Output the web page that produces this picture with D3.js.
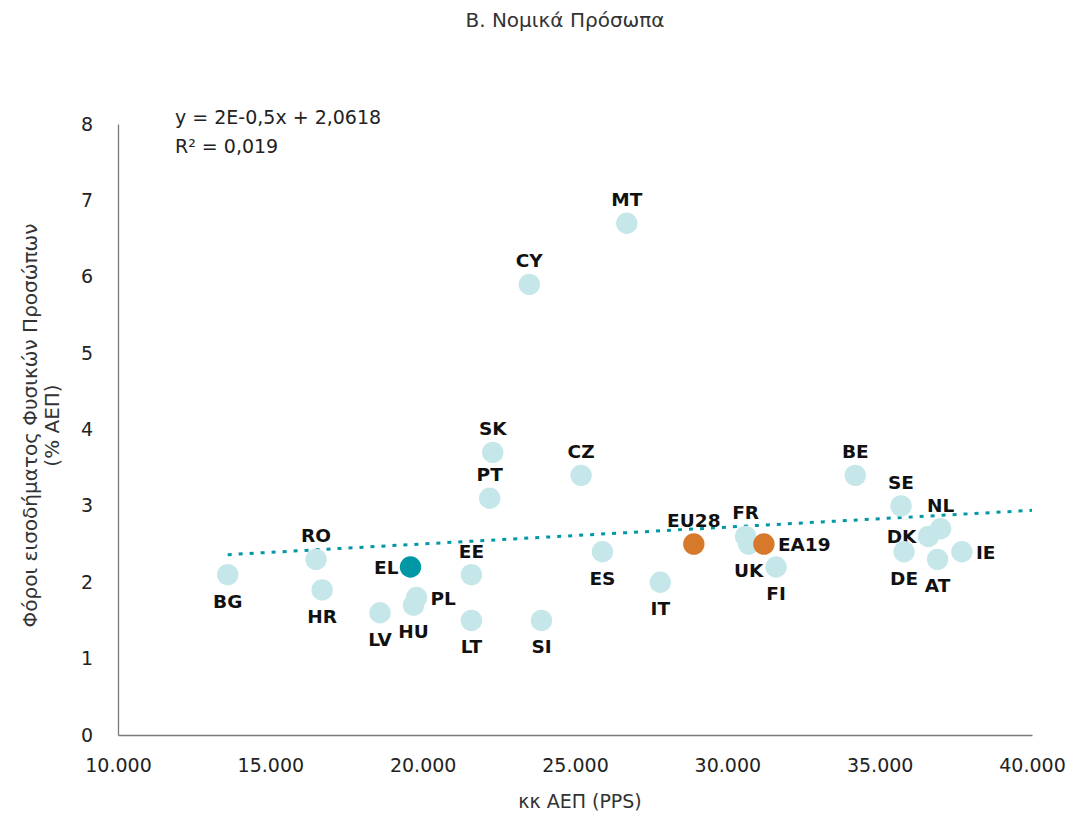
<!DOCTYPE html>
<html>
<head>
<meta charset="utf-8">
<script src="https://cdn.jsdelivr.net/npm/d3@7"></script>
<style>
  body { margin: 0; background: white; }
  text { font-family: "DejaVu Sans", sans-serif; }
</style>
</head>
<body>
<div id="container"></div>
<script>

// countries, x = GDP per capita (PPS), y = tax % GDP
let countries = ["BG","RO","HR","LV","HU","PL","EL","EE","LT","SK","PT","CY","SI","CZ","MT","ES","IT","EU28","FR","UK","EA19","FI","BE","SE","DK","NL","DE","AT","IE"]
let gdpValues = [13600,16500,16700,18600,19700,19800,19600,21600,21600,22300,22200,23500,23900,25200,26700,25900,27800,28900,30600,30700,31200,31600,34200,35700,36600,37000,35800,36900,37700]
let taxValues = [2.1,2.3,1.9,1.6,1.7,1.8,2.2,2.1,1.5,3.7,3.1,5.9,1.5,3.4,6.7,2.4,2.0,2.5,2.6,2.5,2.5,2.2,3.4,3.0,2.6,2.7,2.4,2.3,2.4]
// where the label sits relative to the dot
let labelSide = ["b","t","b","b","b","r","l","t","b","t","t","t","b","t","t","b","b","t","t","b","r","b","t","t","l","t","b","b","r"]
// greece highlighted, aggregates in orange
let kind = ["c","c","c","c","c","c","el","c","c","c","c","c","c","c","c","c","c","agg","c","c","agg","c","c","c","c","c","c","c","c"]

let xTicks = [10000,15000,20000,25000,30000,35000,40000]
let yTicks = [0,1,2,3,4,5,6,7,8]
let trendSlope = 0.000022
let trendIntercept = 2.0618

let W = 1068, H = 816
let margin = {left:118, top:124, right:36, bottom:81}

let viz = d3.select("#container").append("svg")
    .attr("width", W)
    .attr("height", H)

let x = d3.scaleLinear().domain([10000,40000]).range([margin.left, W - margin.right])
let y = d3.scaleLinear().domain([0,8]).range([H - margin.bottom, margin.top])

let locale = d3.formatLocale({decimal:",", thousands:".", grouping:[3], currency:["","€"]})
let fmt = locale.format(",")

let colors = {c:"#c6e7e9", el:"#0198a5", agg:"#d6792b"}

// title
viz.append("text")
    .attr("x", 565)
    .attr("y", 27)
    .attr("text-anchor","middle")
    .attr("font-size", 20)
    .attr("fill", "#333")
    .text("Β. Νομικά Πρόσωπα")

// axes
let xAxis = viz.append("g")
    .attr("transform", "translate(0," + y(0) + ")")
    .call(d3.axisBottom(x).tickValues(xTicks).tickFormat(fmt).tickSize(0).tickPadding(24))
let yAxis = viz.append("g")
    .attr("transform", "translate(" + x(10000) + ",0)")
    .call(d3.axisLeft(y).tickValues(yTicks).tickSize(0).tickPadding(27))

viz.selectAll(".domain").attr("stroke","#7a7a7a").attr("stroke-width",1.3)
viz.selectAll(".tick text")
    .attr("font-size", 19)
    .attr("fill", "#222")
    .attr("font-family", "\"DejaVu Sans\", sans-serif")
yAxis.selectAll(".tick text").attr("text-anchor","middle").attr("dx", -4)

viz.append("text")
    .attr("x", 580)
    .attr("y", 808)
    .attr("text-anchor","middle")
    .attr("font-size", 19)
    .attr("fill", "#333")
    .text("κκ ΑΕΠ (PPS)")

let yTitle = viz.append("text")
    .attr("transform", "translate(37," + (y(4) - 4) + ") rotate(-90)")
    .attr("text-anchor","middle")
    .attr("font-size", 20)
    .attr("fill", "#333")
yTitle.append("tspan").attr("x",0).attr("dy",0).text("Φόροι εισοδήματος Φυσικών Προσώπων")
yTitle.append("tspan").attr("x",0).attr("dy",22).text("(% ΑΕΠ)")

// trendline
let xMin = d3.min(gdpValues)
viz.append("line")
    .attr("x1", x(xMin))
    .attr("y1", y(trendSlope*xMin + trendIntercept))
    .attr("x2", x(40000))
    .attr("y2", y(trendSlope*40000 + trendIntercept))
    .attr("stroke", "#0198a5")
    .attr("stroke-width", 3)
    .attr("stroke-dasharray", "4,7")

viz.append("text")
    .attr("x", 175)
    .attr("y", 124)
    .attr("font-size", 19)
    .attr("fill", "#222")
    .text("y = 2E-0,5x + 2,0618")
viz.append("text")
    .attr("x", 175)
    .attr("y", 153)
    .attr("font-size", 19)
    .attr("fill", "#222")
    .text("R² = 0,019")

// points
let data = countries.map(function(c,i){
    return {name:c, gdp:gdpValues[i], tax:taxValues[i], side:labelSide[i], kind:kind[i]}
})

let pts = viz.append("g").selectAll("g").data(data).enter().append("g")

pts.append("circle")
    .attr("cx", d => x(d.gdp))
    .attr("cy", d => y(d.tax))
    .attr("r", 10.7)
    .attr("fill", d => colors[d.kind])

function labelX(d){
    if(d.side === "l") return x(d.gdp) - 12
    if(d.side === "r") return x(d.gdp) + 14
    return x(d.gdp)
}
function labelY(d){
    if(d.side === "t") return y(d.tax) - 17
    if(d.side === "b") return y(d.tax) + 33
    return y(d.tax) + 7
}
function anchor(d){
    if(d.side === "l") return "end"
    if(d.side === "r") return "start"
    return "middle"
}

pts.append("text")
    .attr("x", labelX)
    .attr("y", labelY)
    .attr("text-anchor", anchor)
    .attr("font-size", 18.5)
    .attr("font-weight", 700)
    .attr("fill", "#111")
    .text(d => d.name)

</script>
</body>
</html>
